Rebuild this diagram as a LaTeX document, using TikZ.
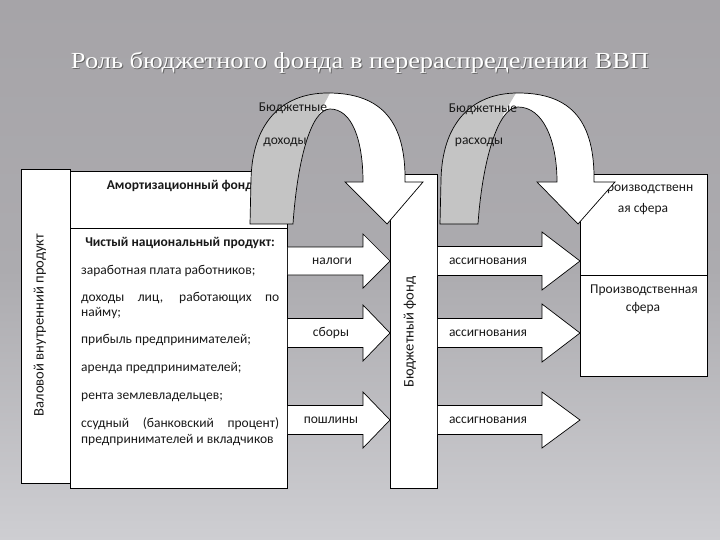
\documentclass[tikz,border=0pt]{standalone}
\usepackage{fontspec}
\setmainfont{Carlito}
\newfontfamily\titlefont{Liberation Serif}
\usetikzlibrary{calc}
\definecolor{bgtop}{RGB}{166,164,168}
\definecolor{bgmid}{RGB}{172,171,175}
\definecolor{bgbot}{RGB}{206,206,210}
\definecolor{bandgray}{RGB}{196,196,196}
\definecolor{ink}{RGB}{25,25,25}
\newcommand\blockarrow[5]{%
  \path[blockst] ($(#1)+(0,-#4)$) -- ($(#2)+(-#3,-#4)$) -- ($(#2)+(-#3,-#5)$) -- (#2)
    -- ($(#2)+(-#3,#5)$) -- ($(#2)+(-#3,#4)$) -- ($(#1)+(0,#4)$);}
\def\arrowApath{(250,224) -- (251,180) .. controls (252,125) and (280,93) .. (328,93)
  .. controls (382,93) and (406,122) .. (405,182) -- (423,182) -- (387,224) -- (345,182)
  -- (363,182) .. controls (363,140) and (352,109) .. (330,109)
  .. controls (310,109) and (297,165) .. (293,224) -- cycle}
\def\arrowBpath{(440,224) -- (441,180) .. controls (442,125) and (470,93) .. (518,93)
  .. controls (572,93) and (595,122) .. (594,182) -- (615,182) -- (578,224) -- (537,182)
  -- (557,182) .. controls (557,140) and (543,107) .. (518,107)
  .. controls (497,107) and (482,165) .. (478,224) -- cycle}
\begin{document}
\begin{tikzpicture}[x=1pt,y=-1pt,
  boxst/.style={draw=black, fill=white, line width=0.9pt, inner sep=0pt, anchor=north west},
  txt/.style={font=\fontsize{13.5}{15}\selectfont, text=ink, inner sep=0pt},
  vtxt/.style={font=\fontsize{14.6}{16}\selectfont, text=ink, inner sep=0pt, rotate=90},
  lst/.style={txt, anchor=mid west},
  hd/.style={txt, font=\fontsize{13.5}{15}\selectfont\bfseries},
  blockst/.style={fill=white, draw=black, line width=0.7pt, line join=miter},
  curvst/.style={draw=black, line width=0.7pt},
  titlest/.style={font=\titlefont\fontsize{23}{27}\selectfont, inner sep=0pt}
]
\useasboundingbox (0,0) rectangle (720,540);
\shade[top color=bgtop, bottom color=bgbot, middle color=bgmid] (0,0) rectangle (720,540);
% title
\node[titlest, text=black!60] (titleshadow) at (361,64) {\scalebox{1.15}[1]{Роль бюджетного фонда в перераспределении ВВП}};
\node[titlest, text=white] (title) at (360,63) {\scalebox{1.15}[1]{Роль бюджетного фонда в перераспределении ВВП}};
% boxes
\node[boxst, minimum width=49pt, minimum height=314pt] (gdp) at (21,169) {};
\node[boxst, minimum width=217pt, minimum height=57pt] (amort) at (70,171) {};
\node[boxst, minimum width=217pt, minimum height=260pt] (nnp) at (70,228) {};
\node[boxst, minimum width=47pt, minimum height=314pt] (fund) at (390,174) {};
\node[boxst, minimum width=127pt, minimum height=101pt] (nprod) at (580,174) {};
\node[boxst, minimum width=127pt, minimum height=101pt] (prod) at (580,275) {};
% box texts
\node[vtxt] (gdpt) at (40,325) {Валовой внутренний продукт};
\node[vtxt] (fundt) at (410,332) {Бюджетный фонд};
\node[hd] (amortt) at (180,186) {Амортизационный фонд};
\node[hd] (nnpt) at (180,243) {Чистый национальный продукт:};
\node[lst] (i1) at (81,272) {заработная плата работников;};
\node[lst] (i2) at (81,299) {\makebox[198pt][s]{доходы лиц, работающих по}};
\node[lst] (i2b) at (81,314) {найму;};
\node[lst] (i3) at (81,341) {прибыль предпринимателей;};
\node[lst] (i4) at (81,369) {аренда предпринимателей;};
\node[lst] (i5) at (81,397) {рента землевладельцев;};
\node[lst] (i6) at (81,425) {\makebox[198pt][s]{ссудный (банковский процент)}};
\node[lst] (i6b) at (81,441) {предпринимателей и вкладчиков};
\node[txt] (np1) at (646,188) {Производственн};
\node[txt] (np2) at (643,209) {ая сфера};
\node[txt] (p1) at (644,290) {Производственная};
\node[txt] (p2) at (643,308) {сфера};
% block arrows
\coordinate (ls1) at (nnp.east |- 0,261);
\coordinate (lt1) at (fund.west |- 0,261);
\coordinate (ls2) at (nnp.east |- 0,333);
\coordinate (lt2) at (fund.west |- 0,333);
\coordinate (ls3) at (nnp.east |- 0,420);
\coordinate (lt3) at (fund.west |- 0,420);
\coordinate (rs1) at (fund.east |- 0,261);
\coordinate (rt1) at (nprod.west |- 0,261);
\coordinate (rs2) at (fund.east |- 0,333);
\coordinate (rt2) at (prod.west |- 0,333);
\coordinate (rs3) at (fund.east |- 0,420);
\coordinate (rt3) at (prod.west |- 0,420);
\blockarrow{ls1}{lt1}{27}{14}{27}
\blockarrow{ls2}{lt2}{27}{14.5}{28}
\blockarrow{ls3}{lt3}{27}{14.5}{28}
\blockarrow{rs1}{rt1}{38}{14.5}{29}
\blockarrow{rs2}{rt2}{38}{14.5}{29}
\blockarrow{rs3}{rt3}{38}{14.5}{28}
\node[txt] (a1) at (332,261) {налоги};
\node[txt] (a2) at (331,333) {сборы};
\node[txt] (a3) at (331,420) {пошлины};
\node[txt] (b1) at (488,261) {ассигнования};
\node[txt] (b2) at (488,333) {ассигнования};
\node[txt] (b3) at (488,420) {ассигнования};
% curved arrows
\fill[white] \arrowApath;
\begin{scope}
  \clip \arrowApath;
  \fill[bandgray] (240,80) -- (331,80) -- (330,93) -- (316,120) -- (340,240) -- (240,240) -- cycle;
\end{scope}
\draw[curvst] \arrowApath;
\fill[white] \arrowBpath;
\begin{scope}
  \clip \arrowBpath;
  \fill[bandgray] (430,80) -- (517,80) -- (516,93) -- (503,115) -- (528,240) -- (430,240) -- cycle;
\end{scope}
\draw[curvst] \arrowBpath;
\node[txt] (c1) at (293,108) {Бюджетные};
\node[txt] (c2) at (285,142) {доходы};
\node[txt] (d1) at (483,109) {Бюджетные};
\node[txt] (d2) at (479,142) {расходы};
\end{tikzpicture}
\end{document}
